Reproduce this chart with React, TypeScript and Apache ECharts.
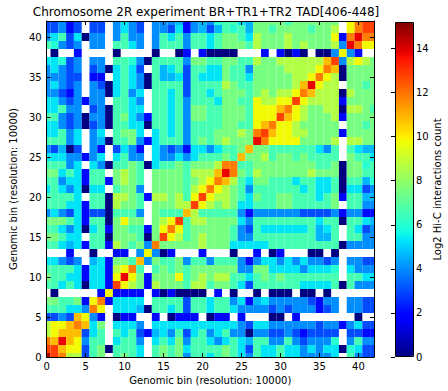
import React, { useEffect, useRef } from "react";
import * as echarts from "echarts";

// Log2 Hi-C counts, lower triangle of the symmetric matrix: rN holds bins 0..N of row N (null = no contacts)
const r00 = [14.6];
const r01 = [12.8, 12.8];
const r02 = [11.8, 10.8, 13.8];
const r03 = [8.6, 9.8, 10.8, 10.8];
const r04 = [8.6, 9.8, 9.8, 10.8, 11.8];
const r05 = [3, 3, 4, 3, 10.8, 9.8];
const r06 = [6.6, 6.6, 6.6, 5.3, 5.3, 4, 11.8];
const r07 = [7.5, 7.5, 6.6, 6.6, 7.5, 2, 9.8, 11.8];
const r08 = [null, 0, null, null, null, null, null, 2, 9.8];
const r09 = [6.6, 6.6, 5.3, 6.6, 5.3, 0, 5.3, 5.3, 2, 12.8];
const r10 = [7.5, 6.6, 6.6, 5.3, 5.3, 2, 5.3, 5.3, 2, 9.8, 13.8];
const r11 = [6.6, 6.6, 6.6, 6.6, 5.3, 2, 5.3, 5.3, 2, 8.6, 9.8, 11.8];
const r12 = [5.3, 5.3, 4, 3, 4, null, 4.6, 5.3, 2, 7.5, 7.5, 6.6, 10.8];
const r13 = [null, null, null, 2, null, null, 0, null, null, 2, 2, null, 4, 9.8];
const r14 = [6.6, 6.6, 5.3, 4.6, 5.3, 2, 6.6, 6.6, 2, 8.6, 7.5, 6.6, 7.5, 4, 11.8];
const r15 = [7.5, 7.5, 6.6, 5.3, 5.3, null, 6.6, 6.6, 0, 7.5, 7.5, 7.5, 6.6, 0, 7.5, 12.8];
const r16 = [6.6, 6.6, 5.3, 4, 5.3, 0, 5.3, 6.6, 2, 7.5, 7.5, 6.6, 6.6, 2, 7.5, 9.8, 11.8];
const r17 = [7.5, 7.5, 7.5, 6.6, 5.3, 2, 6.6, 6.6, 0, 7.5, 9.8, 7.5, 7.5, null, 7.5, 8.6, 9.8, 12.8];
const r18 = [4, 5.3, 4, 3, 5.3, 2, 3, 3, 0, 6.6, 6.6, 6.6, 4, null, 7.5, 6.6, 6.6, 6.6, 10.8];
const r19 = [6.6, 6.6, 6.6, 5.3, 5.3, 2, 6.6, 6.6, 0, 8.6, 7.5, 7.5, 6.6, null, 7.5, 7.5, 7.5, 8.6, 8.6, 12.8];
const r20 = [6.6, 6.6, 6.6, 6.6, 5.3, null, 6.6, 6.6, 0, 8.6, 8.6, 7.5, 6.6, 2, 8.6, 8.6, 7.5, 8.6, 6.6, 9.8, 12.8];
const r21 = [5.3, 6.6, 5.3, 4, 5.3, 0, 5.3, 5.3, null, 6.6, 7.5, 7.5, 4, null, 7.5, 7.5, 7.5, 7.5, 6.6, 8.6, 9.8, 11.8];
const r22 = [6.6, 6.6, 4, 5.3, 5.3, 2, 6.6, 6.6, 2, 7.5, 8.6, 7.5, 6.6, null, 7.5, 7.5, 7.5, 7.5, 6.6, 7.5, 8.6, 9.8, 11.8];
const r23 = [7.5, 7.5, 5.3, 6.6, 5.3, 2, 6.6, 6.6, null, 7.5, 8.6, 7.5, 6.6, null, 7.5, 7.5, 7.5, 7.5, 6.6, 8.6, 8.6, 8.6, 10.8, 13.8];
const r24 = [6.6, 6.6, 6.6, 4, 5.3, null, 5.3, 4, 0, 6.6, 6.6, 7.5, 6.6, 0, 5.3, 6.6, 6.6, 7.5, 6.6, 7.5, 7.5, 7.5, 8.6, 11.8, 11.8];
const r25 = [5.3, 5.3, 5.3, 4, 4, 2, 4, 5.3, null, 5.3, 6.6, 4, 4, null, 5.3, 4, 4, 5.3, 4, 5.3, 6.6, 6.6, 6.6, 7.5, 6.6, 10.8];
const r26 = [4, 3, 4.6, 0, 3, null, 4, 2, null, 3, 5.3, 4, 2, null, 5.3, 4, 3, 4, 2, 5.3, 5.3, 4, 5.3, 6.6, 6.6, 7.5, 10.8];
const r27 = [6.6, 6.6, 6.6, 4, 5.3, null, 4, 4.6, 0, 6.6, 6.6, 7.5, 4, 2, 5.3, 6.6, 6.6, 6.6, 4, 6.6, 7.5, 6.6, 7.5, 8.6, 7.5, 7.5, 7.5, 13.8];
const r28 = [5.3, 5.3, 6.6, 4, 5.3, null, 4, 5.3, null, 6.6, 7.5, 7.5, 5.3, null, 5.3, 6.6, 5.3, 6.6, 4, 6.6, 6.6, 6.6, 7.5, 7.5, 7.5, 8.6, 7.5, 11.8, 12.8];
const r29 = [5.3, 5.3, 4, 3, 4, 0, 3, 4, 0, 6.6, 6.6, 5.3, 5.3, 0, 6.6, 6.6, 5.3, 6.6, 4, 6.6, 6.6, 6.6, 6.6, 7.5, 7.5, 6.6, 6.6, 9.8, 10.8, 11.8];
const r30 = [6.6, 6.6, 4, 3, 4, 0, 4, 4, 0, 6.6, 7.5, 5.3, 4, 2, 6.6, 6.6, 5.3, 6.6, 4, 7.5, 7.5, 6.6, 6.6, 7.5, 7.5, 7.5, 6.6, 9.8, 9.8, 9.8, 12.8];
const r31 = [5.3, 5.3, 6.6, 4, 4, null, 3, 4, 0, 6.6, 6.6, 5.3, 5.3, null, 6.6, 6.6, 5.3, 6.6, 4, 7.5, 7.5, 6.6, 6.6, 7.5, 7.5, 7.5, 6.6, 9.8, 9.8, 9.8, 10.8, 11.8];
const r32 = [5.3, 5.3, 4, 3, 4, 2, 4, 4, null, 6.6, 6.6, 5.3, 4, null, 6.6, 6.6, 5.3, 6.6, 4, 6.6, 6.6, 6.6, 5.3, 7.5, 7.5, 6.6, 6.6, 9.8, 8.6, 8.6, 9.8, 9.8, 12.8];
const r33 = [4, 4, 3, 2, 4, null, 4, 4, 0, 5.3, 6.6, 4, 5.3, null, 6.6, 6.6, 5.3, 6.6, 3, 6.6, 6.6, 5.3, 6.6, 7.5, 7.5, 7.5, 6.6, 7.5, 8.6, 7.5, 8.6, 8.6, 9.8, 11.8];
const r34 = [4, 5.3, 4, 3, 4, null, 4, 3, 0, 5.3, 6.6, 5.3, 4, 0, 6.6, 6.6, 6.6, 6.6, 3, 6.6, 6.6, 6.6, 6.6, 8.6, 7.5, 6.6, 6.6, 7.5, 7.5, 7.5, 7.5, 7.5, 8.6, 10.8, 13.8];
const r35 = [4, 4, 4, 3, 3, null, 2, 2, null, 5.3, 6.6, 5.3, 4, 0, 6.6, 4.6, 4.6, 5.3, 3, 6.6, 5.3, 5.3, 5.3, 7.5, 6.6, 6.6, 5.3, 7.5, 7.5, 7.5, 7.5, 7.5, 8.6, 8.6, 9.8, 11.8];
const r36 = [4, 5.3, 4, 3, 4, null, 3, 4, 0, 5.3, 6.6, 5.3, 3, null, 6.6, 4.6, 5.3, 6.6, 3, 6.6, 6.6, 5.3, 5.3, 7.5, 6.6, 6.6, 4, 7.5, 7.5, 7.5, 7.5, 8.6, 8.6, 8.6, 8.6, 9.8, 11.8];
const r37 = [5.3, 5.3, 6, 3, 4, null, 4, 4, null, 6.6, 6.6, 6, 4, 0, 6.6, 6.6, 6.6, 6.6, 4, 7.5, 7.5, 6.6, 6.6, 7.5, 7.5, 6.6, 6.6, 8.6, 7.5, 7.5, 8.6, 8.6, 8.6, 8.6, 8.6, 8.6, 10.8, 12.8];
const r38 = [null, 0, null, null, 2, null, null, null, null, 0, null, null, null, null, 0, null, null, 0, 2, null, 2, 0, 0, 0, 0, null, null, null, 2, null, 2, 0, 2, 0, null, 0, 0, 4, 9.8];
const r39 = [6.6, 6, 4, 3, 4, null, 4, 4, null, 6.6, 6.6, 5.3, 4, null, 4, 6.6, 6.6, 6.6, 4, 6.6, 6.6, 5.3, 6.6, 7.5, 7.5, 7.5, 6.6, 8.6, 7.5, 7.5, 7.5, 8.6, 7.5, 8.6, 7.5, 7.5, 7.5, 8.6, 4, 13.8];
const r40 = [4, 5.3, 6.6, 3, 5.3, 0, 4, 4, null, 4, 6.6, 4, 4, null, 4, 6.6, 5.3, 6.6, 4, 6.6, 6.6, 5.3, 6.6, 7.5, 7.5, 6.6, 5.3, 8.6, 7.5, 7.5, 7.5, 8.6, 7.5, 7.5, 7.5, 7.5, 7.5, 9.8, 2, 11.8, 13.8];
const r41 = [3, 3, 4, 2, 3, null, 3, 3, null, 4, 5.3, 4, 3, null, 4, 4, 3, 5.3, 2, 4, 4.6, 3, 4.6, 6.6, 6, 6.6, 4.6, 7.5, 7.5, 6.6, 7.5, 7.5, 7.5, 7.5, 6.6, 7.5, 7.5, 8.6, null, 9.8, 11.8, 12.8];
const r42 = [3, 3, 4, 2, 3, null, 3, 3, null, 4, 5.3, 4, 3, null, 4, 4, 4, 4.6, 2, 4, 4.6, 4, 6, 6.6, 6.6, 5.3, 4.6, 7.5, 7.5, 7.5, 7.5, 6.6, 7.5, 7.5, 7.5, 7.5, 7.5, 7.5, null, 9.8, 11.8, 12.8, 12.8];

const lowerRows: (number | null)[][] = [
  r00, r01, r02, r03, r04, r05, r06, r07, r08, r09, r10, r11, r12, r13, r14,
  r15, r16, r17, r18, r19, r20, r21, r22, r23, r24, r25, r26, r27, r28, r29,
  r30, r31, r32, r33, r34, r35, r36, r37, r38, r39, r40, r41, r42,
];

const COLOR_MIN = 0;
const COLOR_MAX = 15.2;
const titleText = "Chromosome 2R experiment BR+TR1+TR2 TAD[406-448]";
const axisTitle = "Genomic bin (resolution: 10000)";
const colorbarTitle = "Log2 Hi-C interactions count";

// matplotlib "jet" colormap
function jet(t: number): string {
  const seg = (pts: number[][]) => {
    for (let i = 1; i < pts.length; i++) {
      if (t <= pts[i][0]) {
        const [x0, y0] = pts[i - 1];
        const [x1, y1] = pts[i];
        return y0 + ((y1 - y0) * (t - x0)) / (x1 - x0);
      }
    }
    return pts[pts.length - 1][1];
  };
  const r = seg([[0, 0], [0.35, 0], [0.66, 1], [0.89, 1], [1, 0.5]]);
  const g = seg([[0, 0], [0.125, 0], [0.375, 1], [0.64, 1], [0.91, 0], [1, 0]]);
  const b = seg([[0, 0.5], [0.11, 1], [0.34, 1], [0.65, 0], [1, 0]]);
  return `rgb(${Math.round(r * 255)},${Math.round(g * 255)},${Math.round(b * 255)})`;
}
const jetColors = Array.from({ length: 101 }, (_, i) => jet(i / 100));

export default function App() {
  const ref = useRef<HTMLDivElement>(null);
  useEffect(() => {
    if (!ref.current) return;
    const chart = echarts.init(ref.current, null, { renderer: "svg" });
    const data: number[][] = [];
    lowerRows.forEach((row, r) =>
      row.forEach((v, c) => {
        if (v === null) return;
        data.push([c, r, v]);
        if (c !== r) data.push([r, c, v]);
      })
    );
    const font = "DejaVu Sans";
    const mainAxis = {
      type: "value",
      min: 0,
      max: 42,
      interval: 5,
      z: 10,
      axisLine: { show: true, onZero: false, lineStyle: { color: "#000", width: 1 } },
      axisTick: { show: true, inside: true, length: 4, lineStyle: { color: "#000", width: 1 } },
      splitLine: { show: false },
    };
    const labelStyle = { color: "#000", fontSize: 10, fontFamily: font, showMaxLabel: false };
    const nameStyle = { color: "#000", fontSize: 10, fontFamily: font };
    const option: any = {
      animation: false,
      backgroundColor: "#fff",
      grid: [
        { left: 38, top: 21, width: 336, height: 336 },
        { left: 395, top: 22, width: 18, height: 335 },
      ],
      xAxis: [
        {
          ...mainAxis,
          gridIndex: 0,
          position: "bottom",
          axisLabel: { ...labelStyle, margin: 4 },
          name: axisTitle,
          nameLocation: "middle",
          nameGap: 15,
          nameTextStyle: nameStyle,
        },
        { ...mainAxis, gridIndex: 0, position: "top", axisLabel: { show: false } },
        { type: "value", gridIndex: 1, show: false, min: 0, max: 1 },
      ],
      yAxis: [
        {
          ...mainAxis,
          gridIndex: 0,
          position: "left",
          axisLabel: { ...labelStyle, margin: 5 },
          name: axisTitle,
          nameLocation: "middle",
          nameRotate: 90,
          nameGap: 21,
          nameTextStyle: nameStyle,
        },
        { ...mainAxis, gridIndex: 0, position: "right", axisLabel: { show: false } },
        {
          type: "value",
          gridIndex: 1,
          min: COLOR_MIN,
          max: COLOR_MAX,
          interval: 2,
          position: "right",
          z: 10,
          axisLine: { show: false },
          axisTick: { show: true, inside: true, length: 4, lineStyle: { color: "#000" } },
          axisLabel: { ...labelStyle, margin: 3 },
          splitLine: { show: false },
          name: colorbarTitle,
          nameLocation: "middle",
          nameRotate: 90,
          nameGap: 19,
          nameTextStyle: nameStyle,
        },
      ],
      visualMap: {
        type: "continuous",
        min: COLOR_MIN,
        max: COLOR_MAX,
        dimension: 2,
        seriesIndex: 0,
        inRange: { color: jetColors },
        left: 395,
        top: 22,
        itemWidth: 18,
        itemHeight: 335,
        calculable: false,
        hoverLink: false,
        padding: 0,
        orient: "vertical",
        text: null,
      },
      graphic: [
        {
          type: "text",
          x: 206,
          y: 12,
          z: 100,
          style: {
            text: titleText,
            fill: "#000",
            fontSize: 12,
            fontFamily: font,
            textAlign: "center",
            textVerticalAlign: "middle",
          },
        },
        {
          type: "rect",
          z: 100,
          shape: { x: 395.5, y: 22.5, width: 18, height: 334 },
          style: { fill: "none", stroke: "#000", lineWidth: 1 },
        },
      ],
      series: [
        {
          type: "custom",
          coordinateSystem: "cartesian2d",
          xAxisIndex: 0,
          yAxisIndex: 0,
          clip: true,
          encode: { x: 0, y: 1 },
          data,
          renderItem: (params: any, api: any) => {
            const c = api.value(0);
            const r = api.value(1);
            const p0 = api.coord([c - 0.5, r + 0.5]);
            const p1 = api.coord([c + 0.5, r - 0.5]);
            let shape: any = { x: p0[0], y: p0[1], width: p1[0] - p0[0], height: p1[1] - p0[1] };
            const cs = params.coordSys;
            if (echarts.graphic && (echarts.graphic as any).clipRectByRect) {
              shape = (echarts.graphic as any).clipRectByRect(shape, {
                x: cs.x,
                y: cs.y,
                width: cs.width,
                height: cs.height,
              });
              if (!shape) return null;
            }
            return { type: "rect", shape, style: { fill: api.visual("color") } };
          },
        },
      ],
    };
    chart.setOption(option);
    return () => chart.dispose();
  }, []);
  return (
    <div
      ref={ref}
      style={{ position: "fixed", left: 0, top: 0, width: 448, height: 391, background: "#fff" }}
    />
  );
}
